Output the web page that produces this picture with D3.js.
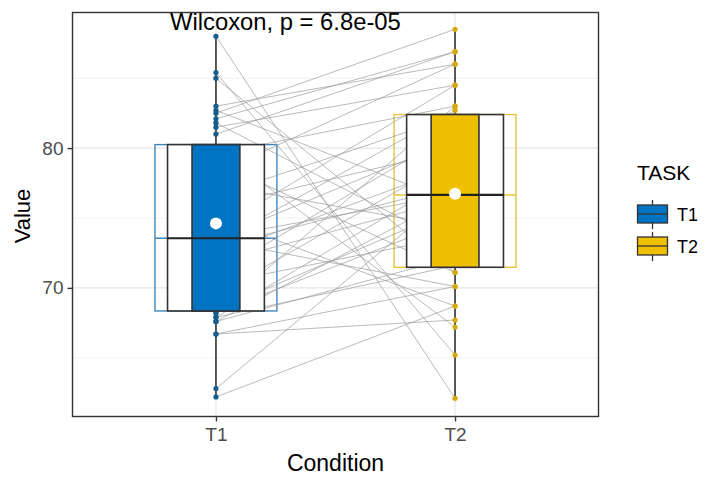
<!DOCTYPE html>
<html>
  <head>
    <title>Paired boxplot</title>
    <script src="https://cdn.jsdelivr.net/npm/d3@7"></script>
    <style>
      body { margin: 0; background: #fff; }
      text { font-family: "Liberation Sans", Arial, sans-serif; }
    </style>
  </head>
  <body>
    <svg width="706" height="477" id="mainsvg"></svg>
    <script>
        // paired scores, one entry per subject (same index = same subject)
        const conditions = ['T1', 'T2'];
        const t1Values = [62.2, 62.8, 66.7, 66.7, 67.6, 67.6, 67.9, 67.9, 68.2, 68.2,
                          68.4, 69.5, 70.3, 71.0, 71.8, 72.4, 72.9, 73.2, 73.4, 73.5,
                          73.6, 74.2, 75.0, 75.8, 76.6, 77.4, 78.2, 79.0, 79.6, 80.0,
                          81.0, 81.5, 81.8, 82.1, 82.5, 82.7, 83.0, 85.0, 85.4, 88.0];
        const t2Values = [68.7, 77.0, 70.1, 67.7, 76.6, 72.2, 78.0, 71.6, 83.0, 74.9,
                          75.7, 79.3, 73.7, 81.2, 76.4, 78.7, 77.3, 82.7, 70.1, 80.6,
                          76.7, 84.5, 68.7, 79.9, 82.3, 74.3, 86.0, 71.1, 83.0, 67.2,
                          86.9, 84.5, 73.0, 86.9, 88.5, 76.1, 86.0, 71.1, 65.2, 62.1];
        const yTicks = [70, 80];
        const yMinor = [65, 75, 85];
        const pLabel = 'Wilcoxon, p = 6.8e-05';

        const fills = {T1: '#0073C2', T2: '#EFC000'};
        const outlines = {T1: '#3f86bd', T2: '#e3c43c'};
        const pointCols = {T1: '#175d8d', T2: '#d6aa0c'};

        const svg = d3.select('#mainsvg');
        const width = +svg.attr('width');
        const height = +svg.attr('height');
        const margin = {top: 12.5, right: 107.5, bottom: 60.5, left: 72.5};
        const innerWidth = width - margin.left - margin.right;
        const innerHeight = height - margin.top - margin.bottom;

        const g = svg.append('g').attr('transform', `translate(${margin.left}, ${margin.top})`);

        const xScale = d3.scalePoint().domain(conditions).range([0, innerWidth]).padding(0.6);
        const yScale = d3.scaleLinear().domain([60.8, 89.7]).range([innerHeight, 0]);
        const step = xScale.step();

        // grid
        yMinor.forEach(v => {
          g.append('line').attr('x1', 0).attr('x2', innerWidth)
            .attr('y1', yScale(v)).attr('y2', yScale(v))
            .attr('stroke', '#f0f0f0').attr('stroke-width', 1);
        });
        yTicks.forEach(v => {
          g.append('line').attr('x1', 0).attr('x2', innerWidth)
            .attr('y1', yScale(v)).attr('y2', yScale(v))
            .attr('stroke', '#e6e6e6').attr('stroke-width', 1.2);
        });
        conditions.forEach(c => {
          g.append('line').attr('x1', xScale(c)).attr('x2', xScale(c))
            .attr('y1', 0).attr('y2', innerHeight)
            .attr('stroke', '#e6e6e6').attr('stroke-width', 1.2);
        });

        const series = {T1: t1Values, T2: t2Values};
        const stats = {};
        conditions.forEach(c => {
          const s = series[c].slice().sort(d3.ascending);
          stats[c] = {
            q1: d3.quantile(s, 0.25), med: d3.quantile(s, 0.5), q3: d3.quantile(s, 0.75),
            lo: d3.min(s), hi: d3.max(s), mean: d3.mean(s)
          };
        });

        // wide outline box, coloured
        conditions.forEach(c => {
          const st = stats[c], w = step * 0.51, x = xScale(c);
          g.append('rect').attr('x', x - w / 2).attr('width', w)
            .attr('y', yScale(st.q3)).attr('height', yScale(st.q1) - yScale(st.q3))
            .attr('fill', 'none').attr('stroke', outlines[c]).attr('stroke-width', 1.4);
          g.append('line').attr('x1', x - w / 2).attr('x2', x + w / 2)
            .attr('y1', yScale(st.med)).attr('y2', yScale(st.med))
            .attr('stroke', outlines[c]).attr('stroke-width', 1.4);
        });

        // paired lines
        t1Values.forEach((v, i) => {
          g.append('line')
            .attr('x1', xScale('T1')).attr('y1', yScale(v))
            .attr('x2', xScale('T2')).attr('y2', yScale(t2Values[i]))
            .attr('stroke', '#9a9a9a').attr('stroke-width', 0.8).attr('opacity', 0.85);
        });

        // whiskers + points
        conditions.forEach(c => {
          const st = stats[c], x = xScale(c);
          g.append('line').attr('x1', x).attr('x2', x)
            .attr('y1', yScale(st.lo)).attr('y2', yScale(st.hi))
            .attr('stroke', '#333').attr('stroke-width', 1.6);
          series[c].forEach(v => {
            g.append('circle').attr('cx', x).attr('cy', yScale(v)).attr('r', 2.6)
              .attr('fill', pointCols[c]);
          });
        });

        // white box, black outline, then narrow filled box
        conditions.forEach(c => {
          const st = stats[c], x = xScale(c);
          [[0.405, '#fff'], [0.2, fills[c]]].forEach(([f, col]) => {
            const w = step * f;
            g.append('rect').attr('x', x - w / 2).attr('width', w)
              .attr('y', yScale(st.q3)).attr('height', yScale(st.q1) - yScale(st.q3))
              .attr('fill', col).attr('stroke', '#333').attr('stroke-width', 1.6);
          });
          const w = step * 0.405;
          g.append('line').attr('x1', x - w / 2).attr('x2', x + w / 2)
            .attr('y1', yScale(st.med)).attr('y2', yScale(st.med))
            .attr('stroke', '#222').attr('stroke-width', 2.2);
          g.append('circle').attr('cx', x).attr('cy', yScale(st.mean)).attr('r', 6)
            .attr('fill', '#fff');
        });

        // border
        g.append('rect').attr('width', innerWidth).attr('height', innerHeight)
          .attr('fill', 'none').attr('stroke', '#333').attr('stroke-width', 1.4);

        // axes
        const yAxis = d3.axisLeft(yScale).tickValues(yTicks).tickSize(5).tickPadding(4);
        const xAxis = d3.axisBottom(xScale).tickSize(5).tickPadding(6);
        const yg = g.append('g').call(yAxis);
        const xg = g.append('g').attr('transform', `translate(0, ${innerHeight})`).call(xAxis);
        [yg, xg].forEach(a => {
          a.select('.domain').remove();
          a.selectAll('.tick line').attr('stroke', '#333').attr('stroke-width', 1.4);
          a.selectAll('.tick text').attr('fill', '#4d4d4d').attr('font-size', '19px')
            .attr('font-family', '"Liberation Sans", Arial, sans-serif');
        });

        svg.append('text').text('Value').attr('font-size', '22px')
          .attr('transform', 'translate(30, 216) rotate(-90)').attr('text-anchor', 'middle');
        svg.append('text').text('Condition').attr('font-size', '23px')
          .attr('x', margin.left + innerWidth / 2).attr('y', 471).attr('text-anchor', 'middle');
        svg.append('text').text(pLabel).attr('font-size', '23.8px')
          .attr('x', 170).attr('y', 30);

        // legend
        const lg = svg.append('g').attr('transform', 'translate(637, 0)');
        lg.append('text').text('TASK').attr('font-size', '21px').attr('x', 0).attr('y', 180);
        conditions.forEach((c, i) => {
          const cy = 214 + i * 32;
          lg.append('line').attr('x1', 15.5).attr('x2', 15.5).attr('y1', cy - 14).attr('y2', cy + 15)
            .attr('stroke', '#333').attr('stroke-width', 1.3);
          lg.append('rect').attr('x', 0.5).attr('y', cy - 9).attr('width', 30).attr('height', 18)
            .attr('fill', fills[c]).attr('stroke', '#333').attr('stroke-width', 1.3);
          lg.append('line').attr('x1', 0.5).attr('x2', 30.5).attr('y1', cy).attr('y2', cy)
            .attr('stroke', '#333').attr('stroke-width', 1.3);
          lg.append('text').text(c).attr('font-size', '18px').attr('x', 40).attr('y', cy + 7);
        });
    </script>
  </body>
</html>
